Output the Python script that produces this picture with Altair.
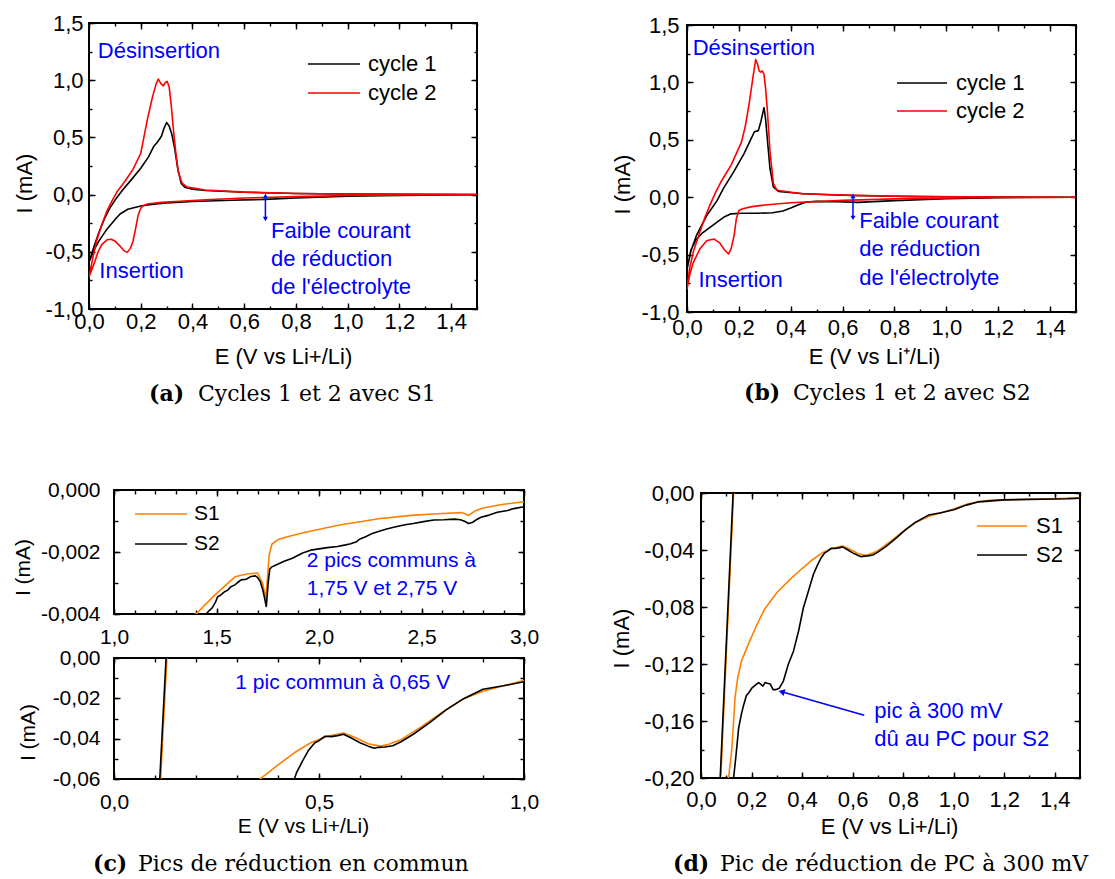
import altair as alt
import pandas as pd

FONT = "Liberation Sans"
SERIF = "DejaVu Serif"
BLUE = "#0000ff"
ORANGE = "#ff8000"

# ---------------- (a) S1, cycles 1 and 2 (cathodic sweep then anodic sweep) ----------------
A1_E = [1.5, 1.2, 1.0, 0.8, 0.68, 0.55, 0.4, 0.3, 0.25, 0.2, 0.15, 0.12, 0.1, 0.07, 0.04, 0.02, 0.0,
        0.02, 0.04, 0.06, 0.08, 0.1, 0.13, 0.16, 0.2, 0.23, 0.25, 0.265, 0.28, 0.29, 0.3, 0.31, 0.32,
        0.33, 0.343, 0.356, 0.37, 0.4, 0.45, 0.6, 0.8, 1.0, 1.5]
A1_I = [0.0, -0.008, -0.015, -0.03, -0.042, -0.05, -0.06, -0.072, -0.085, -0.1, -0.128, -0.17, -0.22, -0.3, -0.4, -0.48, -0.59,
        -0.45, -0.32, -0.21, -0.12, -0.05, 0.04, 0.12, 0.23, 0.33, 0.42, 0.46, 0.51, 0.58, 0.63, 0.6, 0.53,
        0.42, 0.23, 0.1, 0.065, 0.048, 0.036, 0.021, 0.01, 0.005, 0.0]
A2_E = [1.5, 1.2, 1.0, 0.8, 0.6, 0.45, 0.35, 0.28, 0.23, 0.21, 0.2, 0.19, 0.18, 0.17, 0.16, 0.148, 0.135, 0.12,
        0.1, 0.086, 0.07, 0.05, 0.035, 0.022, 0.01, 0.0,
        0.015, 0.03, 0.05, 0.07, 0.09, 0.11, 0.137, 0.17, 0.2, 0.227, 0.245, 0.26, 0.268, 0.278, 0.287, 0.295,
        0.302, 0.31, 0.318, 0.325, 0.335, 0.345, 0.36, 0.38, 0.45, 0.6, 0.8, 1.0, 1.5]
A2_I = [0.0, -0.004, -0.008, -0.018, -0.03, -0.045, -0.058, -0.068, -0.08, -0.095, -0.12, -0.18, -0.3, -0.41, -0.47, -0.505, -0.49, -0.45,
        -0.405, -0.39, -0.395, -0.435, -0.5, -0.59, -0.66, -0.72,
        -0.55, -0.4, -0.26, -0.14, -0.05, 0.03, 0.11, 0.22, 0.36, 0.67, 0.85, 0.97, 1.01, 0.97, 0.95, 0.98,
        0.99, 0.94, 0.78, 0.6, 0.38, 0.2, 0.1, 0.065, 0.04, 0.022, 0.01, 0.004, 0.0]

# ---------------- (b) S2, cycles 1 and 2 ----------------
B1_E = [1.5, 1.2, 1.0, 0.8, 0.66, 0.58, 0.5, 0.46, 0.43, 0.4, 0.37, 0.33, 0.27, 0.21, 0.17, 0.145, 0.12, 0.09, 0.06, 0.035, 0.015, 0.0,
        0.015, 0.037, 0.076, 0.116, 0.14, 0.18, 0.22, 0.245, 0.26, 0.275, 0.285, 0.297, 0.303, 0.31, 0.32, 0.333,
        0.353, 0.45, 0.6, 0.8, 1.0, 1.5]
B1_I = [0.0, -0.004, -0.013, -0.03, -0.045, -0.04, -0.036, -0.042, -0.065, -0.095, -0.12, -0.135, -0.14, -0.14, -0.145, -0.17, -0.21, -0.26, -0.31, -0.37, -0.46, -0.63,
        -0.47, -0.33, -0.16, -0.03, 0.075, 0.22, 0.38, 0.5, 0.57, 0.58, 0.66, 0.78, 0.68, 0.5, 0.25, 0.09,
        0.05, 0.03, 0.017, 0.008, 0.004, 0.0]
B2_E = [1.5, 1.2, 1.0, 0.8, 0.6, 0.4, 0.3, 0.25, 0.215, 0.2, 0.19, 0.182, 0.17, 0.16, 0.145, 0.125, 0.105, 0.09, 0.076, 0.05, 0.024, 0.01, 0.0,
        0.01, 0.025, 0.05, 0.07, 0.09, 0.11, 0.13, 0.17, 0.21, 0.225, 0.24, 0.254, 0.265, 0.272, 0.278, 0.284, 0.29,
        0.297, 0.303, 0.31, 0.32, 0.333, 0.347, 0.445, 0.643, 0.9, 1.5]
B2_I = [0.0, -0.003, -0.006, -0.015, -0.028, -0.048, -0.068, -0.082, -0.1, -0.115, -0.19, -0.33, -0.45, -0.495, -0.46, -0.395, -0.365, -0.37, -0.38, -0.45, -0.57, -0.68, -0.8,
        -0.62, -0.47, -0.3, -0.17, -0.06, 0.04, 0.13, 0.28, 0.48, 0.62, 0.82, 1.04, 1.2, 1.16, 1.1, 1.09, 1.1,
        1.07, 0.95, 0.75, 0.4, 0.12, 0.06, 0.03, 0.016, 0.005, 0.0]

# ---------------- (c), (d) first reduction sweep, S1 and S2 ----------------
S1_E = [3.0, 2.9, 2.8, 2.76, 2.73, 2.7, 2.6, 2.45, 2.3, 2.1, 1.95, 1.85, 1.8, 1.77, 1.757, 1.748, 1.74, 1.725, 1.7, 1.655,
        1.59, 1.49, 1.4, 1.3, 1.2, 1.15, 1.1, 1.05, 1.0, 0.95, 0.9, 0.85, 0.8, 0.75, 0.7, 0.67, 0.65, 0.62, 0.59, 0.56,
        0.52, 0.48, 0.44, 0.4, 0.35, 0.3, 0.25, 0.22, 0.19, 0.16, 0.145, 0.135, 0.122, 0.109]
S1_I = [-0.00038, -0.00046, -0.00058, -0.00068, -0.00082, -0.00073, -0.00076, -0.00082, -0.00092, -0.00113,
        -0.00134, -0.0015, -0.0016, -0.00175, -0.0021, -0.0029, -0.0035, -0.003, -0.00268, -0.0027,
        -0.0028, -0.0034, -0.004, -0.0044, -0.0047, -0.005, -0.006, -0.008, -0.0112, -0.0138,
        -0.0165, -0.0205, -0.027, -0.034, -0.0405, -0.0428, -0.0437, -0.0425, -0.0395, -0.0372,
        -0.0388, -0.042, -0.047, -0.053, -0.061, -0.07, -0.082, -0.093, -0.105, -0.118, -0.13, -0.143, -0.18, -0.2]
S2_E = [3.0, 2.95, 2.92, 2.87, 2.83, 2.79, 2.77, 2.75, 2.73, 2.71, 2.69, 2.66, 2.61, 2.56, 2.51, 2.46, 2.42, 2.38, 2.33, 2.29,
        2.26, 2.23, 2.2, 2.18, 2.15, 2.13, 2.09, 2.04, 2.0, 1.96, 1.92, 1.87, 1.83, 1.79, 1.77, 1.76, 1.752, 1.743, 1.735, 1.725,
        1.714, 1.7, 1.69, 1.675, 1.664, 1.645, 1.62, 1.6, 1.59, 1.57, 1.555, 1.54, 1.52, 1.505, 1.496, 1.479, 1.46, 1.45, 1.4, 1.3,
        1.2, 1.1, 1.05, 1.0, 0.95, 0.9, 0.85, 0.81, 0.77, 0.73, 0.7, 0.68, 0.66, 0.645, 0.635, 0.62, 0.6, 0.58, 0.56, 0.545,
        0.53, 0.515, 0.5, 0.49, 0.475, 0.46, 0.445, 0.425, 0.405, 0.386, 0.366, 0.346, 0.326, 0.31, 0.295, 0.285, 0.274, 0.262, 0.254, 0.245,
        0.235, 0.228, 0.214, 0.201, 0.19, 0.18, 0.17, 0.16, 0.149, 0.138, 0.129]
S2_I = [-0.00054, -0.0006, -0.00066, -0.00072, -0.00081, -0.00088, -0.00095, -0.00104, -0.00108, -0.00101,
        -0.00096, -0.00094, -0.00096, -0.00097, -0.00102, -0.00108, -0.00112, -0.00118, -0.00126, -0.00134,
        -0.0014, -0.0015, -0.00158, -0.00168, -0.00174, -0.00177, -0.00182, -0.00186, -0.0019, -0.00194,
        -0.00203, -0.0022, -0.0023, -0.00242, -0.00248, -0.00255, -0.003, -0.00376, -0.0035, -0.0032,
        -0.00296, -0.00282, -0.00277, -0.00278, -0.0028, -0.00288, -0.0029, -0.003, -0.00306, -0.00312,
        -0.00323, -0.00328, -0.00339, -0.00345, -0.0036, -0.0038, -0.00392, -0.004, -0.0042, -0.0045,
        -0.0048, -0.0062, -0.0085, -0.0118, -0.0138, -0.0155, -0.0205, -0.0257, -0.032, -0.0378,
        -0.0415, -0.0435, -0.0441, -0.0443, -0.0448, -0.0437, -0.042, -0.0398, -0.0378, -0.0385,
        -0.039, -0.0388, -0.041, -0.042, -0.0456, -0.051, -0.057, -0.069, -0.0807, -0.097,
        -0.111, -0.12, -0.132, -0.137, -0.138, -0.138, -0.134, -0.1335, -0.133, -0.1355,
        -0.134, -0.133, -0.135, -0.137, -0.14, -0.142, -0.148, -0.155, -0.165, -0.185, -0.2]
# steep oxidation branch (both samples)
S1A_E = [0.078, 0.129]
S1A_I = [-0.2, 0.0]
S2A_E = [0.076, 0.127]
S2A_I = [-0.2, 0.0]

for e, i in [(A1_E, A1_I), (A2_E, A2_I), (B1_E, B1_I), (B2_E, B2_I), (S1_E, S1_I), (S2_E, S2_I)]:
    assert len(e) == len(i)

# ---------------- annotations ----------------
ANN_AB_TXT = ["Désinsertion", "Insertion", "Faible courant", "de réduction", "de l'électrolyte"]
ANN_A_E = [0.034, 0.040, 0.704, 0.704, 0.704]
ANN_A_I = [1.255, -0.668, -0.318, -0.566, -0.808]
ANN_B_E = [0.022, 0.044, 0.664, 0.664, 0.664]
ANN_B_I = [1.302, -0.724, -0.207, -0.454, -0.701]
ARR_A_E, ARR_A_I = 0.682, [-0.012, -0.213]
ARR_B_E, ARR_B_I = 0.64, [0.01, -0.18]
ANN_CT_TXT = ["2 pics communs à", "1,75 V et 2,75 V"]
ANN_CT_E = [1.94, 1.94]
ANN_CT_I = [-0.00229, -0.00319]
ANN_CB_TXT = ["1 pic commun à 0,65 V"]
ANN_CB_E = [0.296]
ANN_CB_I = [-0.0124]
ANN_D_TXT = ["pic à 300 mV", "dû au PC pour S2"]
ANN_D_E = [0.686, 0.686]
ANN_D_I = [-0.153, -0.1725]
ARR_D_E = [0.646, 0.323]
ARR_D_I = [-0.156, -0.1397]

CYCLES = ["cycle 1", "cycle 2"]
SAMPLES = ["S1", "S2"]


def steps(a, b, s):
    n = int(round((b - a) / s))
    return [round(a + k * s, 4) for k in range(n + 1)]


def fmt_expr(spec):
    return "replace(replace(format(datum.value, '" + spec + "'), '.', ','), '\u2212', '-')"


def X(xs):
    return alt.X("E:Q", scale=xs, axis=None)


def Y(ys):
    return alt.Y("I:Q", scale=ys, axis=None)


def line(E, I, name, cs, leg, xs, ys):
    df = pd.DataFrame({"E": E, "I": I, "s": name, "k": list(range(len(E)))})
    return alt.Chart(df).mark_line(clip=True, strokeWidth=1.6, strokeJoin="round").encode(
        x=X(xs), y=Y(ys), color=alt.Color("s:N", scale=cs, legend=leg), order=alt.Order("k:Q"))


def texts(E, I, T, fs, xs, ys):
    df = pd.DataFrame({"E": E, "I": I, "t": T})
    return alt.Chart(df).mark_text(align="left", baseline="middle", font=FONT, fontSize=fs, color=BLUE).encode(
        x=X(xs), y=Y(ys), text="t:N")


def double_arrow(e, ii, xs, ys):
    df = pd.DataFrame({"E": [e], "I": [ii[0]], "I2": [ii[1]]})
    rule = alt.Chart(df).mark_rule(color=BLUE, strokeWidth=1.5).encode(x=X(xs), y=Y(ys), y2="I2:Q")
    up = alt.Chart(pd.DataFrame({"E": [e], "I": [ii[0]]})).mark_point(
        shape="triangle-up", filled=True, color=BLUE, opacity=1, size=26).encode(x=X(xs), y=Y(ys))
    dn = alt.Chart(pd.DataFrame({"E": [e], "I": [ii[1]]})).mark_point(
        shape="triangle-down", filled=True, color=BLUE, opacity=1, size=26).encode(x=X(xs), y=Y(ys))
    return [rule, up, dn]


def caption(tag, text, xt, xx, y):
    a = alt.Chart(pd.DataFrame({"t": [tag]})).mark_text(
        align="left", baseline="middle", font=SERIF, fontSize=22, fontWeight="bold", color="black").encode(
        x=alt.value(xt), y=alt.value(y), text="t:N")
    b = alt.Chart(pd.DataFrame({"t": [text]})).mark_text(
        align="left", baseline="middle", font=SERIF, fontSize=22, color="black").encode(
        x=alt.value(xx), y=alt.value(y), text="t:N")
    return [a, b]


def legend(x, y, L, off, fs, rowpad):
    return alt.Legend(orient="none", legendX=x, legendY=y, title=None, symbolType="stroke",
                      symbolSize=L * L, symbolStrokeWidth=1.6, labelFont=FONT, labelFontSize=fs,
                      labelColor="black", labelOffset=off, rowPadding=rowpad, padding=0, clipHeight=22)


def panel(w, h, xdom, ydom, xmaj, xmin, ymaj, ymin, xfmt, yfmt, fs, xlabpad, ylabpad,
          xtitle, xtpos, ytitle, ytpos, build, T=6, t=3):
    xs = alt.Scale(domain=xdom, nice=False, zero=False)
    ys = alt.Scale(domain=ydom, nice=False, zero=False)
    corner = pd.DataFrame({"E": xdom, "I": ydom})
    common = dict(domain=False, grid=False, tickColor="black", tickWidth=1.4)
    xkw = dict(orient="bottom", values=xmaj, offset=-T, tickSize=T, labelExpr=fmt_expr(xfmt), labelFont=FONT,
               labelFontSize=fs, labelColor="black", labelPadding=xlabpad, labelOverlap=False, labelFlush=False,
               **common)
    if xtitle:
        xkw.update(title=xtitle, titleFont=FONT, titleFontSize=fs, titleFontWeight="normal", titleColor="black",
                   titleX=xtpos[0], titleY=xtpos[1] + T, titleAlign="center", titleBaseline="middle", titleAngle=0)
    else:
        xkw.update(title=None)
    ykw = dict(orient="left", values=ymaj, offset=-T, tickSize=T, labelExpr=fmt_expr(yfmt), labelFont=FONT,
               labelFontSize=fs, labelColor="black", labelPadding=ylabpad, labelOverlap=False, labelFlush=False,
               title=ytitle, titleFont=FONT, titleFontSize=fs, titleFontWeight="normal", titleColor="black",
               titleX=ytpos[0] - T, titleY=ytpos[1], titleAlign="center", titleBaseline="middle", titleAngle=270,
               **common)

    def host(ax, ay):
        return alt.Chart(corner).mark_point(opacity=0, size=1).encode(
            x=alt.X("E:Q", scale=xs, axis=ax), y=alt.Y("I:Q", scale=ys, axis=ay))

    def tick_ax(orient, vals, L):
        return alt.Axis(orient=orient, values=vals, offset=-L, tickSize=L, labels=False, title=None, **common)

    hosts = [host(alt.Axis(**xkw), alt.Axis(**ykw)),
             host(tick_ax("bottom", xmin, t), tick_ax("left", ymin, t)),
             host(tick_ax("top", xmaj, T), tick_ax("right", ymaj, T)),
             host(tick_ax("top", xmin, t), tick_ax("right", ymin, t))]
    layers = build(xs, ys)
    return alt.layer(*hosts, *layers).resolve_axis(x="independent", y="independent").properties(width=w, height=h)


# ---------- panel builders
def build_a(xs, ys):
    cs = alt.Scale(domain=CYCLES, range=["black", "red"])
    leg = legend(218, 30, 52, 7, 22, 7)
    L = [line(A1_E, A1_I, CYCLES[0], cs, leg, xs, ys), line(A2_E, A2_I, CYCLES[1], cs, leg, xs, ys),
         texts(ANN_A_E, ANN_A_I, ANN_AB_TXT, 22, xs, ys)]
    L += double_arrow(ARR_A_E, ARR_A_I, xs, ys)
    L += caption("(a)", "Cycles 1 et 2 avec S1", 60, 109, 371)
    return L


def build_b(xs, ys):
    cs = alt.Scale(domain=CYCLES, range=["black", "red"])
    leg = legend(209, 47, 50, 8, 22, 6)
    L = [line(B1_E, B1_I, CYCLES[0], cs, leg, xs, ys), line(B2_E, B2_I, CYCLES[1], cs, leg, xs, ys),
         texts(ANN_B_E, ANN_B_I, ANN_AB_TXT, 22, xs, ys)]
    L += double_arrow(ARR_B_E, ARR_B_I, xs, ys)
    L += caption("(b)", "Cycles 1 et 2 avec S2", 57, 106, 368)
    return L


def sample_lines(cs, leg, xs, ys):
    return [line(S1_E, S1_I, SAMPLES[0], cs, leg, xs, ys), line(S1A_E, S1A_I, SAMPLES[0], cs, leg, xs, ys),
            line(S2_E, S2_I, SAMPLES[1], cs, leg, xs, ys), line(S2A_E, S2A_I, SAMPLES[1], cs, leg, xs, ys)]


def build_ct(xs, ys):
    cs = alt.Scale(domain=SAMPLES, range=[ORANGE, "black"])
    leg = legend(20, 13, 52, 6, 21, 8)
    return sample_lines(cs, leg, xs, ys) + [texts(ANN_CT_E, ANN_CT_I, ANN_CT_TXT, 21, xs, ys)]


def build_cb(xs, ys):
    cs = alt.Scale(domain=SAMPLES, range=[ORANGE, "black"])
    L = sample_lines(cs, None, xs, ys) + [texts(ANN_CB_E, ANN_CB_I, ANN_CB_TXT, 21, xs, ys)]
    L += caption("(c)", "Pics de réduction en commun", -21, 24, 206)
    return L


def build_d(xs, ys):
    cs = alt.Scale(domain=SAMPLES, range=[ORANGE, "black"])
    leg = legend(275, 22, 50, 8, 22, 7)
    L = sample_lines(cs, leg, xs, ys) + [texts(ANN_D_E, ANN_D_I, ANN_D_TXT, 22, xs, ys)]
    adf = pd.DataFrame({"E": [ARR_D_E[0]], "I": [ARR_D_I[0]], "E2": [ARR_D_E[1]], "I2": [ARR_D_I[1]]})
    L.append(alt.Chart(adf).mark_rule(color=BLUE, strokeWidth=1.5).encode(
        x=X(xs), y=Y(ys), x2="E2:Q", y2="I2:Q"))
    L.append(alt.Chart(pd.DataFrame({"E": [ARR_D_E[1]], "I": [ARR_D_I[1]]})).mark_point(
        shape="triangle", angle=285, filled=True, color=BLUE, opacity=1, size=50).encode(x=X(xs), y=Y(ys)))
    L += caption("(d)", "Pic de réduction de PC à 300 mV", -28, 19, 371)
    return L


pa = panel(388, 286, [0, 1.5], [-1.0, 1.5], steps(0, 1.4, 0.2), steps(0, 1.5, 0.1), steps(-1, 1.5, 0.5),
           steps(-1, 1.5, 0.25), ".1f", ".1f", 22, 2, 6, "E (V vs Li+/Li)", (194, 47), "I (mA)", (-65, 160), build_a)
pb = panel(389, 287, [0, 1.5], [-1.0, 1.5], steps(0, 1.4, 0.2), steps(0, 1.5, 0.1), steps(-1, 1.5, 0.5),
           steps(-1, 1.5, 0.25), ".1f", ".1f", 22, 5, 8, "E (V vs Li\u207a/Li)", (187, 44), "I (mA)", (-65, 159), build_b)
pct = panel(410, 124, [1.0, 3.0], [-0.004, 0.0], steps(1, 3, 0.5), steps(1, 3, 0.1), steps(-0.004, 0, 0.002),
            steps(-0.004, 0, 0.001), ".1f", ".3f", 21, 12, 14, None, None, "I (mA)", (-91, 77), build_ct, T=6, t=4)
pcb = panel(410, 121, [0.0, 1.0], [-0.06, 0.0], steps(0, 1, 0.5), steps(0, 1, 0.1), steps(-0.06, 0, 0.02),
            steps(-0.06, 0, 0.01), ".1f", ".2f", 21, 12, 14, "E (V vs Li+/Li)", (189, 47), "I (mA)", (-86, 74),
            build_cb, T=6, t=4)
pd_ = panel(379, 285, [0, 1.5], [-0.2, 0.0], steps(0, 1.4, 0.2), steps(0, 1.5, 0.1), steps(-0.2, 0, 0.04),
            steps(-0.2, 0, 0.02), ".1f", ".2f", 22, 11, 7, "E (V vs Li+/Li)", (188, 48), "I (mA)", (-80, 145), build_d)


def spacer(w, h):
    return alt.Chart(pd.DataFrame({"z": [0]})).mark_point(opacity=0, size=1).encode(
        x=alt.value(0), y=alt.value(0)).properties(width=w, height=h, view=alt.ViewBackground(stroke="transparent"))


# With "flush" bounds, only unit views' own width/height count in the layout:
# nested concat groups occupy no room, so the gaps below carry their full offset.
RES = dict(color="independent", x="independent", y="independent")
col_b = alt.vconcat(spacer(389, 2), pb, spacing=0, bounds="flush").resolve_scale(**RES)
row1 = alt.hconcat(pa, spacer(210, 10), col_b, spacing=0, bounds="flush").resolve_scale(**RES)
col_c = alt.vconcat(pct, pcb, spacing=44, bounds="flush").resolve_scale(**RES)
col_d = alt.vconcat(spacer(379, 3), pd_, spacing=0, bounds="flush").resolve_scale(**RES)
row2 = alt.hconcat(spacer(25, 10), col_c, spacer(587, 10), col_d, spacing=0, bounds="flush").resolve_scale(**RES)

chart = alt.vconcat(row1, row2, spacing=467, bounds="flush").resolve_scale(**RES).properties(
    padding={"left": 3, "top": 3, "right": 4, "bottom": 0}, background="white"
).configure_view(stroke="black", strokeWidth=2)

chart.save("out.html", embed_options={"renderer": "svg", "actions": False})
